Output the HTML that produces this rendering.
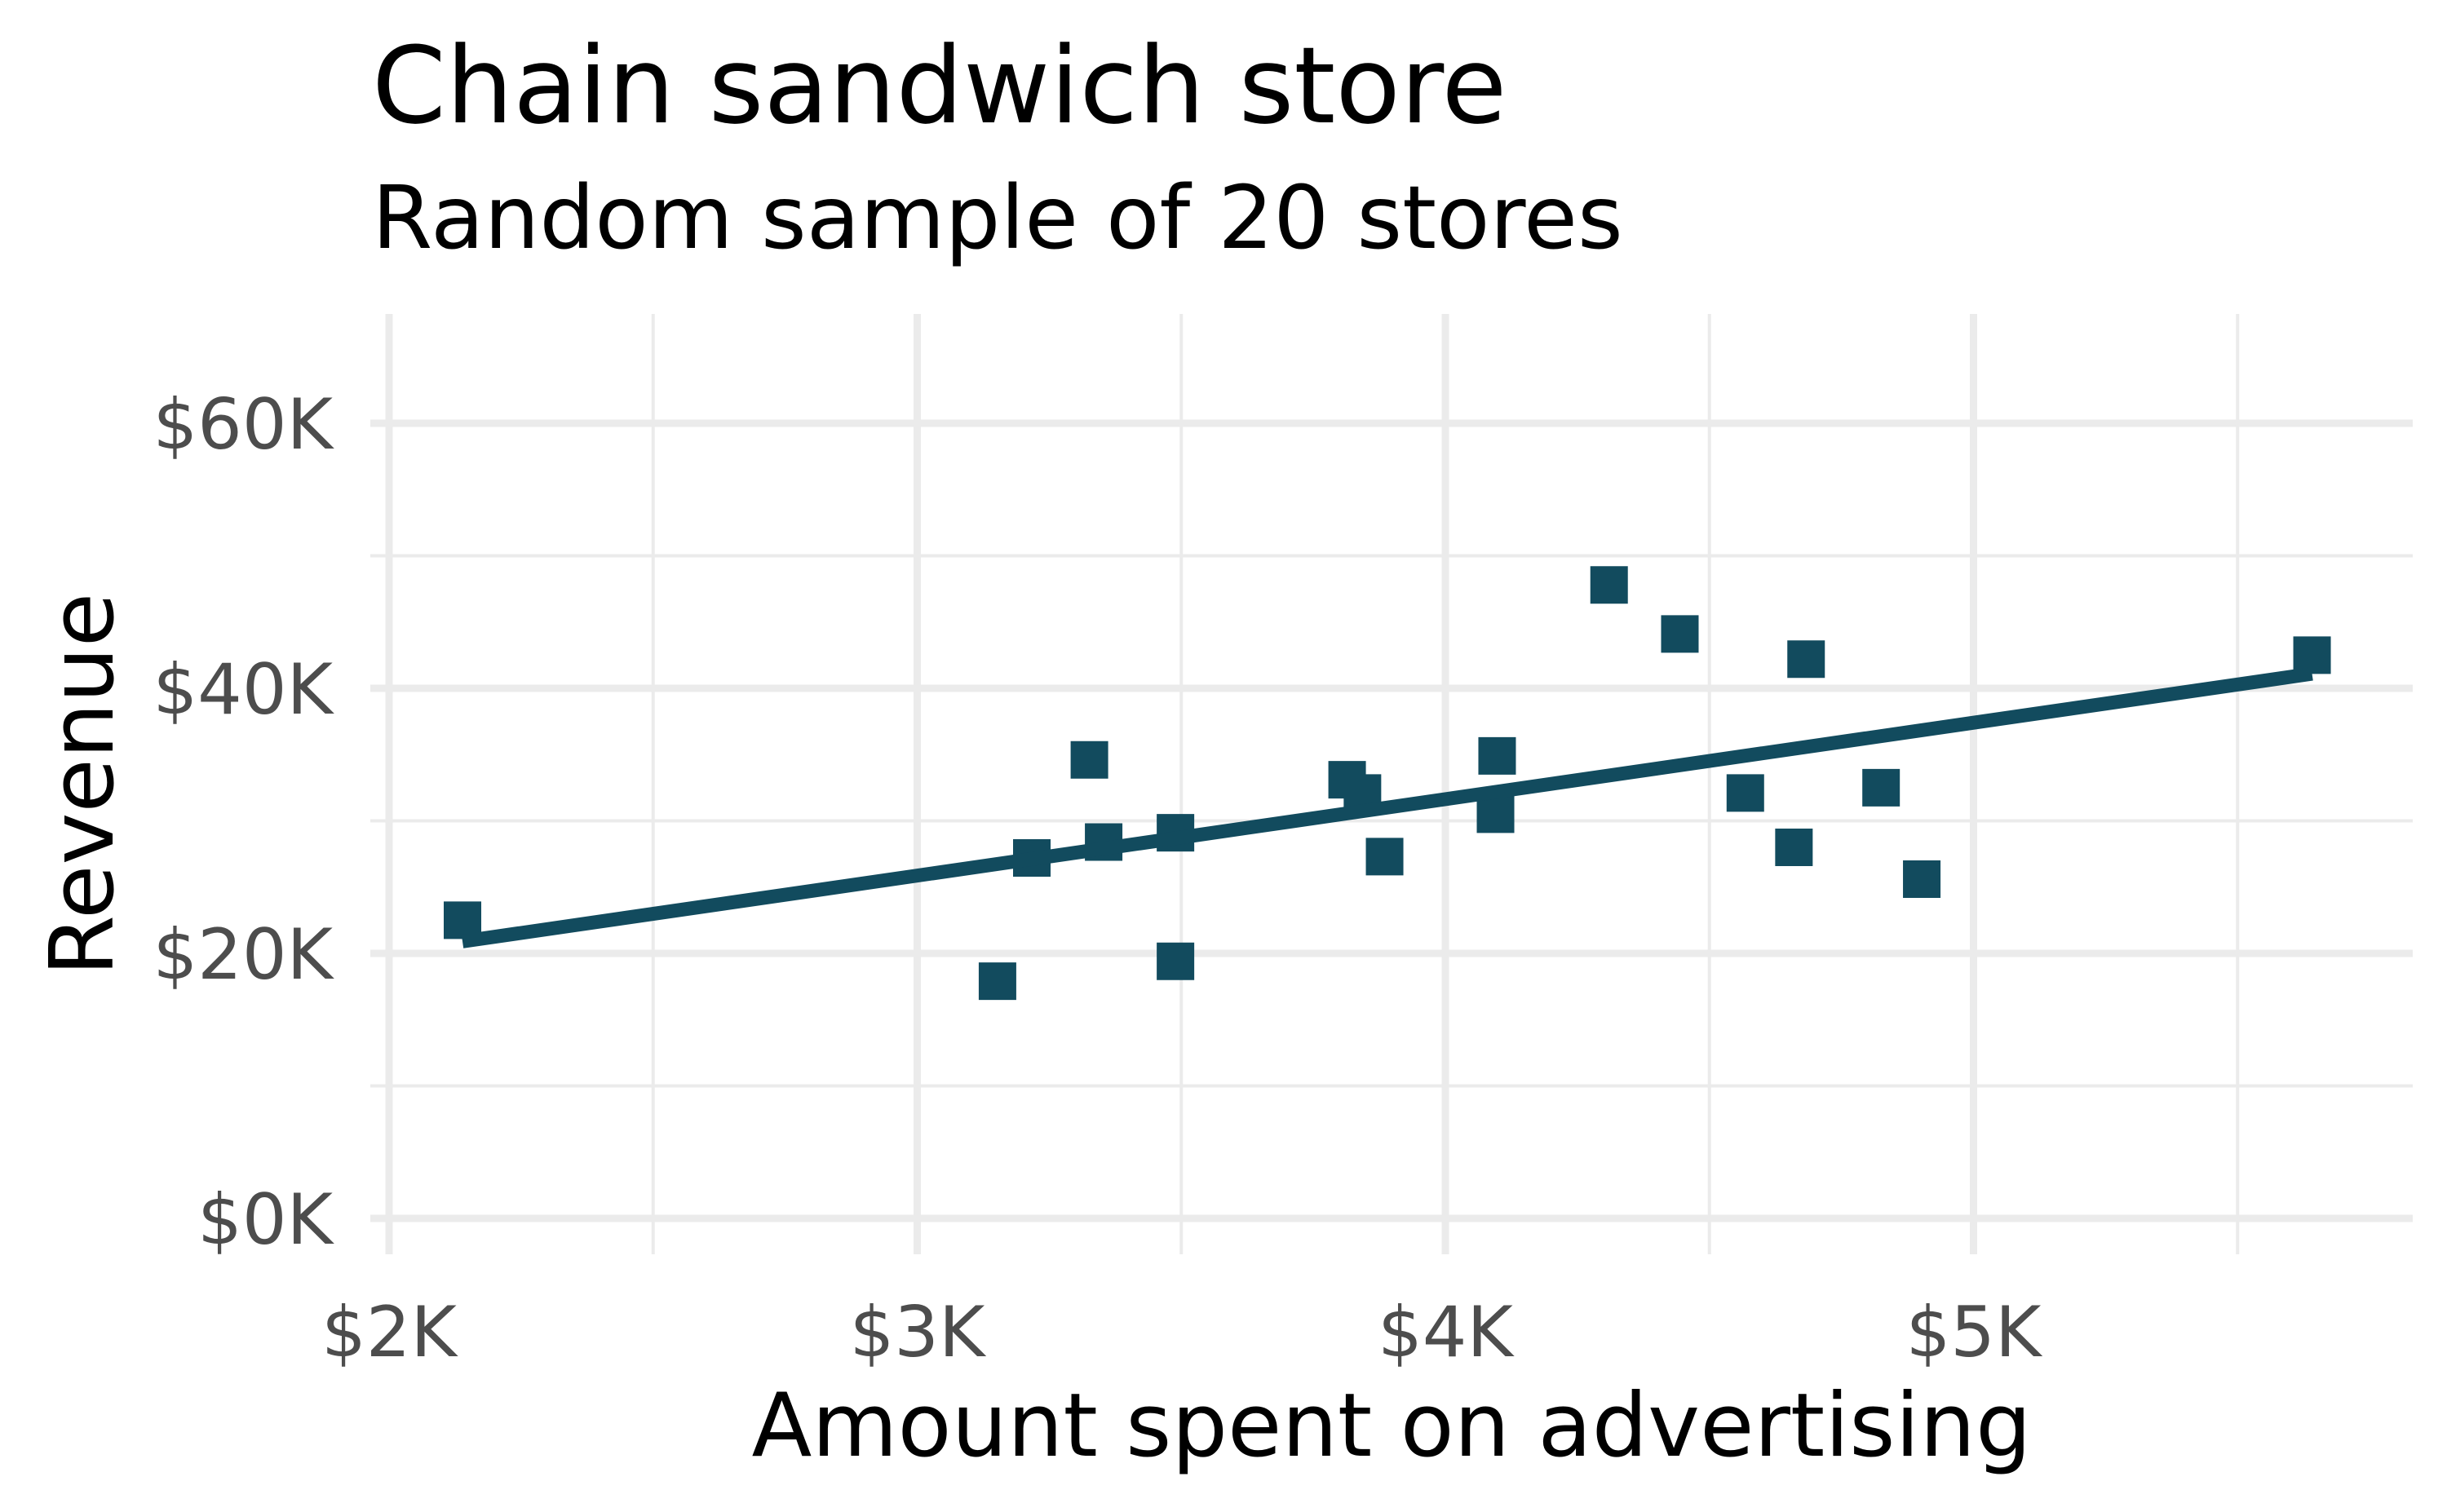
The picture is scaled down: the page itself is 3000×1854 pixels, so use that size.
<!DOCTYPE html>
<html><head><meta charset="utf-8"><style>
html,body{margin:0;padding:0;background:#fff;}
svg{display:block;font-family:"DejaVu Sans","Liberation Sans",sans-serif;}
</style></head><body>
<svg id="chart" width="3000" height="1854" viewBox="0 0 3000 1854" xmlns="http://www.w3.org/2000/svg">
<text x="456" y="150" font-size="130" fill="#000">Chain sandwich store</text>
<text x="456" y="304" font-size="107" fill="#000">Random sample of 20 stores</text>
<g id="grid"></g>
<g id="marks"></g>
<g id="labels"></g>
<text x="1706" y="1785" font-size="108" text-anchor="middle" fill="#000">Amount spent on advertising</text>
<text transform="translate(138,962) rotate(-90)" font-size="108" text-anchor="middle" fill="#000">Revenue</text>
</svg>
<script>
const adSpend = [2.139,3.152,3.217,3.326,3.353,3.489,3.489,3.814,3.843,3.885,4.098,4.095,4.310,4.444,4.568,4.660,4.683,4.825,4.902,5.641];
const revenue = [22.5,17.9,27.2,34.6,28.4,29.1,19.4,33.1,32.1,27.3,34.9,30.5,47.8,44.1,32.1,28.0,42.2,32.5,25.6,42.5];
const fitX = [2.139,5.641];
const fitY = [20.9,41.1];
const xTicks = [2,3,4,5];
const xTickLabels = ["$2K","$3K","$4K","$5K"];
const xMinor = [2.5,3.5,4.5,5.5];
const yTicks = [0,20,40,60];
const yTickLabels = ["$0K","$20K","$40K","$60K"];
const yMinor = [10,30,50];

const NS="http://www.w3.org/2000/svg";
const L=454,R=2958,T=385,B=1538;
const xs=v=>477+(v-2)*647.5;
const ys=v=>1494-v*16.25;
function mk(tag,attrs,parent){const e=document.createElementNS(NS,tag);for(const k in attrs)e.setAttribute(k,attrs[k]);parent.appendChild(e);return e;}
const grid=document.getElementById('grid'),marks=document.getElementById('marks'),labels=document.getElementById('labels');
xMinor.forEach(v=>{const e=mk('line',{x1:xs(v),x2:xs(v),y1:T,y2:B,stroke:'#ebebeb','stroke-width':4},grid);

});
yMinor.forEach(v=>{const e=mk('line',{x1:L,x2:R,y1:ys(v),y2:ys(v),stroke:'#ebebeb','stroke-width':4},grid);

});
xTicks.forEach((v,i)=>{const e=mk('line',{x1:xs(v),x2:xs(v),y1:T,y2:B,stroke:'#ebebeb','stroke-width':9},grid);


const t=mk('text',{x:xs(v),y:1663,'font-size':86,'text-anchor':'middle',fill:'#4d4d4d'},labels);t.textContent=xTickLabels[i];

});
yTicks.forEach((v,i)=>{const e=mk('line',{x1:L,x2:R,y1:ys(v),y2:ys(v),stroke:'#ebebeb','stroke-width':9},grid);


const t=mk('text',{x:408,y:ys(v)+31,'font-size':86,'text-anchor':'end',fill:'#4d4d4d'},labels);t.textContent=yTickLabels[i];

});
adSpend.forEach((v,i)=>{const s=46;const e=mk('rect',{x:xs(v)-s/2,y:ys(revenue[i])-s/2,width:s,height:s,fill:'#124b5e'},marks);

});
const ln=mk('line',{x1:xs(fitX[0]),y1:ys(fitY[0]),x2:xs(fitX[1]),y2:ys(fitY[1]),stroke:'#124b5e','stroke-width':17},marks);


</script>
</body></html>
